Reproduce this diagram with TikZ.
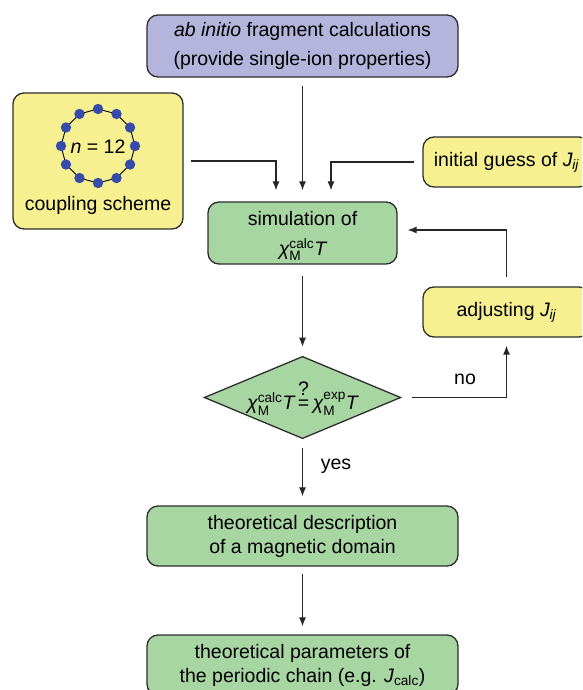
\documentclass[tikz,border=0pt]{standalone}
\usepackage{amsmath}
\usepackage{fontspec}
\setmainfont{Liberation Sans}
\usetikzlibrary{shapes.geometric,arrows.meta,calc}
\definecolor{boxpurple}{RGB}{180,180,220}
\definecolor{boxyellow}{RGB}{246,240,145}
\definecolor{boxgreen}{RGB}{168,214,163}
\definecolor{edgegray}{RGB}{45,45,45}
\definecolor{dotblue}{RGB}{55,75,170}
\newcommand{\chiMx}[1]{\text{\itshape χ}^{\text{#1}}_{\text{M}}\text{\itshape T}}
\newcommand{\Jij}{\textit{J}\textsubscript{\kern-0.5pt\textit{ij}}}
\tikzset{
  txt/.style={font=\fontsize{19.5}{24}\selectfont, text=black},
  flowbox/.style={txt, draw=edgegray, line width=1.3pt, rounded corners=11pt, align=center, inner sep=0pt},
  decision/.style={txt, diamond, draw=edgegray, line width=1.3pt, inner sep=0pt, aspect=2.39, fill=boxgreen},
  arr/.style={-{Latex[length=9pt,width=7pt]}, line width=1.1pt, draw=black!85},
}
\begin{document}
\begin{tikzpicture}[x=1pt,y=-1pt]
\useasboundingbox (0,0) rectangle (582,690);
\clip (0,0) rectangle (582,690);
% boxes
\node[flowbox, fill=boxpurple, minimum width=311pt, minimum height=62pt,
      font=\fontsize{19.5}{28.5}\selectfont] (top) at (302.5,46)
  {\textit{ab initio} fragment calculations\\(provide single-ion properties)};
\node[flowbox, fill=boxyellow, minimum width=170pt, minimum height=136pt] (coup) at (98,161) {};
\node[flowbox, fill=boxgreen, minimum width=189pt, minimum height=62pt] (sim) at (302.5,233)
  {\raisebox{-3pt}[\height][\depth]{\begin{tabular}{@{}c@{}}simulation of\\[5pt]$\chiMx{calc}$\end{tabular}}};
\node[flowbox, fill=boxyellow, minimum width=167pt, minimum height=50pt] (init) at (506.5,162)
  {initial guess of \Jij};
\node[flowbox, fill=boxyellow, minimum width=167pt, minimum height=50pt] (adj) at (506.5,312)
  {adjusting \Jij};
\node[decision, minimum width=189pt, minimum height=79pt] (dia) at (302.5,397.5)
  {$\chiMx{calc}\,\overset{\displaystyle\raisebox{1pt}{?}}{\text{=}}\,\chiMx{exp}$};
\node[flowbox, fill=boxgreen, minimum width=311pt, minimum height=60pt] (desc) at (302.5,536)
  {theoretical description\\of a magnetic domain};
\node[flowbox, fill=boxgreen, minimum width=311pt, minimum height=60pt] (par) at (302.5,665)
  {theoretical parameters of\\the periodic chain (e.g. \textit{J}\textsubscript{calc})};
% coupling scheme content
\coordinate (ring) at (98,146);
\draw[line width=0.9pt, black] ($(ring)+(0:37)$) \foreach \a in {30,60,...,330} { -- ($(ring)+(\a:37)$) } -- cycle;
\foreach \a in {0,30,...,330} \fill[dotblue] ($(ring)+(\a:37)$) circle (5.2pt);
\node[txt] (nlab) at (98,147) {\textit{n} = 12};
\node[txt] (clab) at (98,205) {coupling scheme};
% connectors
\draw[arr, shorten <=8pt, shorten >=11pt] (top.south) -- (sim.north);
\draw[arr, shorten <=7pt, shorten >=11pt] (coup.east) -| ([xshift=-26.5pt]sim.north);
\draw[arr, shorten <=8pt, shorten >=11pt] (init.west) -| ([xshift=28.5pt]sim.north);
\draw[arr, shorten <=9pt, shorten >=10pt] (adj.north) |- ([yshift=3pt]sim.east);
\draw[arr, shorten <=11pt, shorten >=9pt] (sim.south) -- (dia.north);
\draw[arr, shorten <=11pt, shorten >=8pt] (dia.east) -| (adj.south);
\draw[arr, shorten <=9pt, shorten >=9pt] (dia.south) -- (desc.north);
\draw[arr, shorten <=7pt, shorten >=8pt] (desc.south) -- (par.north);
% labels
\node[txt] (nolab) at (465,379) {no};
\node[txt] (yeslab) at (336,466) {yes};
\end{tikzpicture}
\end{document}
